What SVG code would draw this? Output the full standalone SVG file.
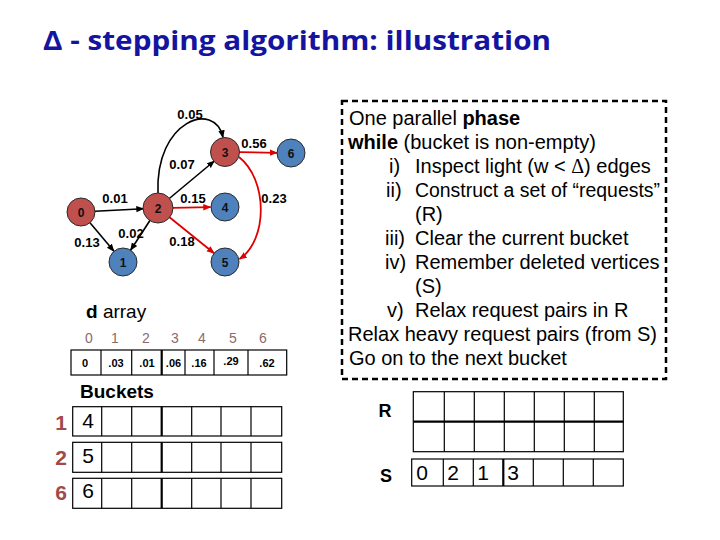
<svg xmlns="http://www.w3.org/2000/svg" width="720" height="540" viewBox="0 0 720 540">
<defs>
<marker id="ab" viewBox="0 0 10 10" refX="9" refY="5" markerWidth="8" markerHeight="8" orient="auto" markerUnits="userSpaceOnUse"><path d="M0,1 L10,5 L0,9 z" fill="#000"/></marker>
<marker id="ar" viewBox="0 0 10 10" refX="9" refY="5" markerWidth="8" markerHeight="8" orient="auto" markerUnits="userSpaceOnUse"><path d="M0,1 L10,5 L0,9 z" fill="#E00000"/></marker>
</defs>
<style>
.node circle{stroke:#2a2a2a;stroke-width:1}
.red circle{fill:#C0504D}
.blue circle{fill:#4F81BD}
.nl{font-family:"Liberation Sans",Arial,sans-serif;font-weight:bold;font-size:12px;text-anchor:middle;fill:#111}
.el{font-family:"Liberation Sans",Arial,sans-serif;font-weight:bold;font-size:13px;text-anchor:middle;fill:#000}
.e{fill:none;stroke:#000;stroke-width:1.6;marker-end:url(#ab)}
.er{fill:none;stroke:#E00000;stroke-width:1.8;marker-end:url(#ar)}
.box{fill:#fff;stroke:#000;stroke-width:1.2}
.ln{stroke:#000;stroke-width:1.2}
.thk{stroke:#000;stroke-width:2.2}
.t{font-family:"Liberation Sans",Arial,sans-serif;fill:#000}
.idx{font-family:"Liberation Sans",Arial,sans-serif;font-size:14px;fill:#8B6B6B;text-anchor:middle}
.val{font-family:"Liberation Sans",Arial,sans-serif;font-size:11px;font-weight:bold;text-anchor:middle}
.bl{font-family:"Liberation Sans",Arial,sans-serif;font-size:21px;font-weight:bold;fill:#A04B4B;text-anchor:middle}
.bv{font-family:"Liberation Sans",Arial,sans-serif;font-size:21px;text-anchor:middle}
.tx{font-family:"Liberation Sans",Arial,sans-serif;font-size:20px;fill:#000}
</style>
<rect width="720" height="540" fill="#fff"/>

<text x="43" y="50" font-family="'Open Sans','Noto Sans',sans-serif" font-weight="bold" font-size="27" fill="#1414A0" textLength="508" lengthAdjust="spacingAndGlyphs">Δ - stepping algorithm: illustration</text>

<g id="edges">
<path class="e" d="M95,211.3 L143.5,208.7"/>
<path class="e" d="M90,222.7 L114,251.3"/>
<path class="e" d="M150.4,219.8 L130.6,250.2"/>
<path class="e" d="M168.7,199 L214.3,161"/>
<path class="e" d="M158,193 C155,120 215,100 223,137.5"/>
<path class="er" d="M172.5,207.8 L210.5,207.2"/>
<path class="er" d="M168.9,216.8 L214.1,253.2"/>
<path class="er" d="M239.5,152.2 L277,152.8"/>
<path class="er" d="M239,157 C268,180 268,240 239.5,259"/>
<text class="el" x="190" y="118.5">0.05</text>
<text class="el" x="254" y="147.5">0.56</text>
<text class="el" x="182" y="168.5">0.07</text>
<text class="el" x="115" y="202.5">0.01</text>
<text class="el" x="193" y="202.5">0.15</text>
<text class="el" x="274" y="202.5">0.23</text>
<text class="el" x="131" y="237.5">0.02</text>
<text class="el" x="182" y="245.5">0.18</text>
<text class="el" x="87" y="246.5">0.13</text>
</g>

<g id="node-0" class="node red"><circle cx="81" cy="212" r="14"/><text class="nl" x="81" y="216.5">0</text></g>
<g id="node-2" class="node red"><circle cx="158" cy="208" r="15"/><text class="nl" x="158" y="212.5">2</text></g>
<g id="node-3" class="node red"><circle cx="225" cy="152" r="14.5"/><text class="nl" x="225" y="156.5">3</text></g>
<g id="node-6" class="node blue"><circle cx="291" cy="153" r="14"/><text class="nl" x="291" y="157.5">6</text></g>
<g id="node-4" class="node blue"><circle cx="225" cy="207" r="14"/><text class="nl" x="225" y="211.5">4</text></g>
<g id="node-1" class="node blue"><circle cx="123" cy="262" r="14"/><text class="nl" x="123" y="266.5">1</text></g>
<g id="node-5" class="node blue"><circle cx="225" cy="262" r="14"/><text class="nl" x="225" y="266.5">5</text></g>

<g id="d-array">
<text class="t" x="86" y="318" font-size="19"><tspan font-weight="bold">d</tspan> array</text>
<text class="idx" x="89" y="343">0</text>
<text class="idx" x="115" y="343">1</text>
<text class="idx" x="146" y="343">2</text>
<text class="idx" x="175" y="343">3</text>
<text class="idx" x="202" y="343">4</text>
<text class="idx" x="233" y="343">5</text>
<text class="idx" x="263" y="343">6</text>
<rect class="box" x="71" y="350" width="215.7" height="25"/>
<line class="ln" x1="101" y1="350" x2="101" y2="375"/>
<line class="ln" x1="131.7" y1="350" x2="131.7" y2="375"/>
<line class="thk" x1="161.7" y1="350" x2="161.7" y2="375"/>
<line class="ln" x1="185" y1="350" x2="185" y2="375"/>
<line class="ln" x1="214" y1="350" x2="214" y2="375"/>
<line class="ln" x1="248" y1="350" x2="248" y2="375"/>
<text class="val" x="85" y="366.5">0</text>
<text class="val" x="116" y="366.5">.03</text>
<text class="val" x="147" y="366.5">.01</text>
<text class="val" x="173.5" y="366.5">.06</text>
<text class="val" x="199" y="366.5">.16</text>
<text class="val" x="231" y="365">.29</text>
<text class="val" x="267" y="366.5">.62</text>
</g>

<g id="buckets">
<text class="t" x="80" y="398" font-size="19" font-weight="bold">Buckets</text>
<rect class="box" x="72.7" y="406.7" width="209" height="29.3"/>
<rect class="box" x="72.7" y="442.3" width="209" height="30"/>
<rect class="box" x="72.7" y="478.3" width="209" height="30"/>
<path class="ln" d="M101.7,406.7V436M131.7,406.7V436M191.7,406.7V436M221,406.7V436M251,406.7V436M101.7,442.3V472.3M131.7,442.3V472.3M191.7,442.3V472.3M221,442.3V472.3M251,442.3V472.3M101.7,478.3V508.3M131.7,478.3V508.3M191.7,478.3V508.3M221,478.3V508.3M251,478.3V508.3"/>
<path class="thk" d="M161.7,406.7V436M161.7,442.3V472.3M161.7,478.3V508.3"/>
<text class="bl" x="61" y="430">1</text>
<text class="bl" x="61" y="465">2</text>
<text class="bl" x="61" y="500">6</text>
<text class="bv" x="88" y="428">4</text>
<text class="bv" x="88" y="463">5</text>
<text class="bv" x="88" y="498">6</text>
</g>

<g id="phase-box">
<rect x="342" y="101" width="324" height="278" fill="none" stroke="#000" stroke-width="2.5" stroke-dasharray="6,4"/>
<text class="tx" x="349" y="124.5">One parallel <tspan font-weight="bold">phase</tspan></text>
<text class="tx" x="348" y="148.5"><tspan font-weight="bold">while</tspan> (bucket is non-empty)</text>
<text class="tx" x="389" y="172.5">i)</text>
<text class="tx" x="415" y="172.5">Inspect light (w &lt; <tspan font-family="'Liberation Serif',serif">Δ</tspan>) edges</text>
<text class="tx" x="386" y="196.5">ii)</text>
<text class="tx" x="415" y="196.5" textLength="245" lengthAdjust="spacingAndGlyphs">Construct a set of “requests”</text>
<text class="tx" x="415" y="220.5">(R)</text>
<text class="tx" x="385" y="244.5">iii)</text>
<text class="tx" x="415" y="244.5">Clear the current bucket</text>
<text class="tx" x="385" y="268.5">iv)</text>
<text class="tx" x="415" y="268.5">Remember deleted vertices</text>
<text class="tx" x="415" y="292.5">(S)</text>
<text class="tx" x="387" y="316.5">v)</text>
<text class="tx" x="415" y="316.5">Relax request pairs in R</text>
<text class="tx" x="348" y="340.5" fill="#CC0000">Relax heavy request pairs (from S)</text>
<text class="tx" x="349" y="364.5">Go on to the next bucket</text>
</g>

<g id="R-table">
<text class="t" x="385" y="417" font-size="18" font-weight="bold" text-anchor="middle">R</text>
<rect class="box" x="413.3" y="391.7" width="210" height="60"/>
<path class="ln" d="M444.3,391.7V451.7M474.3,391.7V451.7M504.3,391.7V451.7M534.3,391.7V451.7M564.3,391.7V451.7M594.3,391.7V451.7"/>
<line class="thk" x1="413.3" y1="421.7" x2="623.3" y2="421.7"/>
</g>

<g id="S-table">
<text class="t" x="386" y="482" font-size="18" font-weight="bold" text-anchor="middle">S</text>
<rect class="box" x="411.7" y="459" width="211.6" height="27"/>
<path class="ln" d="M443.3,459V486M473.3,459V486M533.3,459V486M563.3,459V486M593.3,459V486"/>
<line class="thk" x1="503.3" y1="459" x2="503.3" y2="486"/>
<text class="bv" x="422" y="480" font-size="19">0</text>
<text class="bv" x="453" y="480" font-size="19">2</text>
<text class="bv" x="483" y="480" font-size="19">1</text>
<text class="bv" x="513" y="480" font-size="19">3</text>
</g>
</svg>
